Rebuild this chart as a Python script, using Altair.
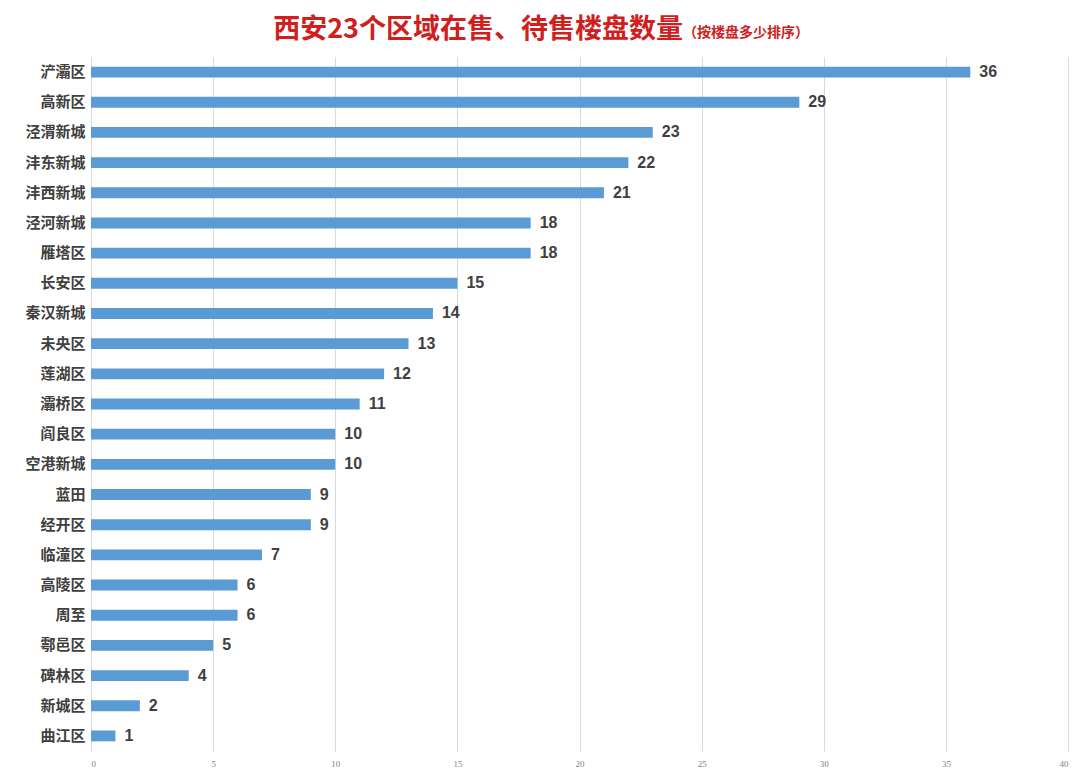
import altair as alt
import pandas as pd

districts = ["浐灞区", "高新区", "泾渭新城", "沣东新城", "沣西新城", "泾河新城", "雁塔区",
             "长安区", "秦汉新城", "未央区", "莲湖区", "灞桥区", "阎良区", "空港新城",
             "蓝田", "经开区", "临潼区", "高陵区", "周至", "鄠邑区", "碑林区", "新城区", "曲江区"]
counts = [36, 29, 23, 22, 21, 18, 18, 15, 14, 13, 12, 11, 10, 10, 9, 9, 7, 6, 6, 5, 4, 2, 1]
x_ticks = [0, 5, 10, 15, 20, 25, 30, 35, 40]

title_main = "西安23个区域在售、待售楼盘数量"
title_sub = "（按楼盘多少排序）"

df = pd.DataFrame({"district": districts, "count": counts})

y_enc = alt.Y("district:N", sort=districts,
              scale=alt.Scale(paddingInner=0.64, paddingOuter=0.32),
              axis=alt.Axis(title=None, labelFont="Noto Sans CJK SC", labelFontSize=15,
                            labelFontWeight="bold", labelColor="#404040", labelPadding=6,
                            ticks=False, domain=True, domainColor="#D9D9D9", grid=False))
x_enc = alt.X("count:Q", scale=alt.Scale(domain=[0, 40], nice=False),
              axis=alt.Axis(title=None, values=x_ticks, labelFontSize=9, labelColor="#808080",
                            labelFont="Liberation Sans Narrow", labelPadding=8,
                            ticks=False, domain=False, grid=True, gridColor="#D9D9D9",
                            gridWidth=1))

bars = alt.Chart(df).mark_bar(color="#5B9BD5").encode(x=x_enc, y=y_enc)
labels = alt.Chart(df).mark_text(align="left", baseline="middle", dx=9, fontSize=16,
                                 fontWeight="bold", color="#404040",
                                 font="Liberation Sans").encode(
    x="count:Q", y=alt.Y("district:N", sort=districts), text="count:Q")

t1 = alt.Chart(pd.DataFrame({"t": [title_main]})).mark_text(
    align="right", baseline="middle", fontSize=27, fontWeight="bold", color="#D0201E",
    font="Noto Sans CJK SC").encode(x=alt.value(592), y=alt.value(-27), text="t:N")
t2 = alt.Chart(pd.DataFrame({"t": [title_sub]})).mark_text(
    align="left", baseline="middle", fontSize=14, fontWeight="bold", color="#D0201E",
    font="Noto Sans CJK SC").encode(x=alt.value(592), y=alt.value(-24), text="t:N")

chart = alt.layer(bars, labels, t1, t2).properties(
    width=977, height=694,
    autosize=alt.AutoSizeParams(type="none"),
    padding={"left": 83, "top": 49, "right": 4, "bottom": 18},
    background="white",
).configure_view(stroke=None)

chart.save("out.html", embed_options={"renderer": "svg", "actions": False})
